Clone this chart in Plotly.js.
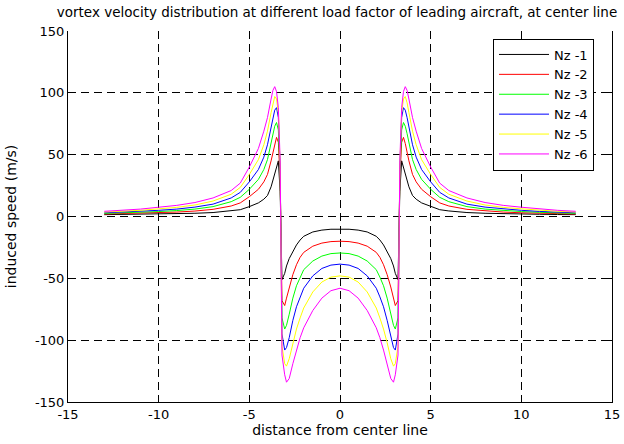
<!DOCTYPE html>
<html><head><meta charset="utf-8">
<script src="https://cdn.plot.ly/plotly-3.0.1.min.js"></script>
<style>html,body{margin:0;padding:0;background:#fff}</style>
</head><body><div id="chart" style="width:624px;height:444px"></div>
<script>
const xDist = [-13,-12,-11,-10,-9,-8,-7,-6,-5.5,-5,-4.5,-4.2,-4,-3.8,-3.7,-3.6,-3.5,-3.4,-3.3,-3.2,-3.05,-2.95,-2.8,-2.6,-2.4,-2.2,-2,-1.5,-1,-0.5,0,
  0.5,1,1.5,2,2.2,2.4,2.6,2.8,2.95,3.05,3.2,3.3,3.4,3.5,3.6,3.7,3.8,4,4.2,4.5,5,5.5,6,7,8,9,10,11,12,13];

const nz1 = [1.5,1.6,1.8,2.0,2.2,2.6,3.2,4.5,5.5,8,11,14,17,24,29,34,40,45,20,-51,-46,-40,-34,-28,-23,-19,-16,-12.5,-11,-10.3,-10,
  -10.3,-11,-12.5,-16,-19,-23,-28,-34,-40,-46,-51,20,45,40,34,29,24,17,14,11,8,5.5,4.5,3.2,2.6,2.2,2.0,1.8,1.6,1.5];
const nz2 = [2.0,2.3,2.6,3.0,3.6,4.4,5.8,8.5,11,16,22,28,34,45,52,59,64,60,30,-68,-72,-66,-57,-47,-39,-33,-29,-24,-21.5,-20.3,-20,
  -20.3,-21.5,-24,-29,-33,-39,-47,-57,-66,-72,-68,30,60,64,59,52,45,34,28,22,16,11,8.5,5.8,4.4,3.6,3.0,2.6,2.3,2.0];
const nz3 = [2.5,2.9,3.4,4.0,4.8,6.0,8.0,12,15.5,22,30,38,46,59,67,73,76,70,34,-82,-91,-88,-79,-66,-56,-49,-43,-36,-32,-30,-29.5,
  -30,-32,-36,-43,-49,-56,-66,-79,-88,-91,-82,34,70,76,73,67,59,46,38,30,22,15.5,12,8.0,6.0,4.8,4.0,3.4,2.9,2.5];
const nz4 = [3.0,3.5,4.1,5.0,6.0,7.6,10,15,19.5,28,38,48,58,72,80,86,88,80,38,-95,-108,-106,-98,-84,-73,-65,-58,-48,-42,-39.3,-38.5,
  -39.3,-42,-48,-58,-65,-73,-84,-98,-106,-108,-95,38,80,88,86,80,72,58,48,38,28,19.5,15,10,7.6,6.0,5.0,4.1,3.5,3.0];
const nz5 = [3.6,4.2,5.0,6.2,7.4,9.3,12.5,18,23.5,34,46,58,69,84,92,97,95,84,40,-105,-119,-121,-115,-102,-91,-82,-74,-61,-53,-49,-48,
  -49,-53,-61,-74,-82,-91,-102,-115,-121,-119,-105,40,84,95,97,92,84,69,58,46,34,23.5,18,12.5,9.3,7.4,6.2,5.0,4.2,3.6];
const nz6 = [4.2,5.0,6.0,7.5,9.0,11.3,15,21,27,40,55,69,80,95,102,105,101,88,45,-112,-128,-134,-131,-119,-108,-98,-90,-76,-66,-60,-58,
  -60,-66,-76,-90,-98,-108,-119,-131,-134,-128,-112,45,88,101,105,102,95,80,69,55,40,27,21,15,11.3,9.0,7.5,6.0,5.0,4.2];

const seriesNames = ['Nz -1','Nz -2','Nz -3','Nz -4','Nz -5','Nz -6'];
const seriesColors = ['#000000','#ff0000','#00ff00','#0000ff','#ffff00','#ff00ff'];
const seriesValues = [nz1,nz2,nz3,nz4,nz5,nz6];

const xTicks = [-15,-10,-5,0,5,10,15];
const yTicks = [-150,-100,-50,0,50,100,150];

const traces = seriesValues.map((ys,i)=>({
  x:xDist, y:ys, type:'scatter', mode:'lines', name:seriesNames[i],
  line:{color:seriesColors[i], width:1}
}));
traces.push({x:[], y:[], xaxis:'x2', yaxis:'y', type:'scatter', mode:'lines', showlegend:false, hoverinfo:'skip'});

const gridDash = '8px,5px';
const layout = {
  width:624, height:444,
  margin:{l:68, r:12, t:31, b:42, pad:0},
  paper_bgcolor:'#ffffff', plot_bgcolor:'#ffffff',
  font:{family:'DejaVu Sans, Arial, sans-serif', size:13, color:'#000'},
  showlegend:true,
  title:{text:'vortex velocity distribution at different load factor of leading aircraft, at center line',
    font:{size:13.5, color:'#000'}, x:(337)/624, xref:'container', xanchor:'center', y:1-12/444, yref:'container', yanchor:'middle'},
  xaxis:{range:[-15,15], tickmode:'array', tickvals:xTicks, ticktext:xTicks.map(String),
    showline:true, linecolor:'#000', linewidth:1, mirror:false,
    ticks:'inside', ticklen:5, tickcolor:'#000',
    showgrid:true, gridcolor:'#000', gridwidth:1, griddash:gridDash, zeroline:false,
    title:{text:'distance from center line', font:{size:14}, standoff:4}},
  xaxis2:{range:[-15,15], overlaying:'x', matches:'x', side:'top', anchor:'y', tickmode:'array', tickvals:xTicks,
    showticklabels:false, showline:false, ticks:'inside', ticklen:5, tickcolor:'#000', showgrid:false, zeroline:false},
  yaxis:{range:[-150,150], tickmode:'array', tickvals:yTicks, ticktext:yTicks.map(String),
    showline:true, linecolor:'#000', linewidth:1, mirror:'ticks',
    ticks:'inside', ticklen:5, tickcolor:'#000',
    showgrid:true, gridcolor:'#000', gridwidth:1, griddash:gridDash, zeroline:false,
    title:{text:'induced speed (m/s)', font:{size:14}, standoff:14}},
  legend:{x:(493-68)/544, y:(402-38.5)/371, xanchor:'left', yanchor:'top', bordercolor:'#000', borderwidth:1,
    bgcolor:'#fff', font:{size:13}, itemwidth:50, tracegroupgap:0}
};
Plotly.newPlot('chart', traces, layout, {displayModeBar:false, staticPlot:true});
</script></body></html>
